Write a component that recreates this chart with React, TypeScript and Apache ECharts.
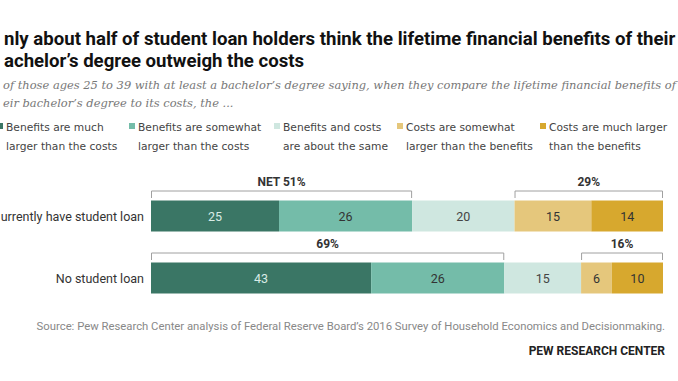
import React, { useEffect, useRef } from "react";
import * as echarts from "echarts";

// Visible text is kept as it appears in the (left-cropped) reference picture
const categories = ["urrently have student loan", "No student loan"];
const seriesNames = [
  "Benefits are much\nlarger than the costs",
  "Benefits are somewhat\nlarger than the costs",
  "Benefits and costs\nare about the same",
  "Costs are somewhat\nlarger than the benefits",
  "Costs are much larger\nthan the benefits",
];
const muchBenefits = [25, 43];
const somewhatBenefits = [26, 26];
const aboutSame = [20, 15];
const somewhatCosts = [15, 6];
const muchCosts = [14, 10];
const seriesValues = [muchBenefits, somewhatBenefits, aboutSame, somewhatCosts, muchCosts];
const colors = ["#3a7665", "#74bca9", "#cfe7e0", "#e5c77c", "#d7a82e"];
const labelColors = ["#d8ece6", "#333333", "#444444", "#333333", "#333333"];
// brackets: [start, end, row, label]
const brackets: [number, number, number, string][] = [
  [0, 51, 0, "NET 51%"],
  [71, 100, 0, "29%"],
  [0, 69, 1, "69%"],
  [84, 100, 1, "16%"],
];
const legendTextX = [6, 138, 283, 406, 549];

const titleLines = [
  "nly about half of student loan holders think the lifetime financial benefits of their",
  "achelor\u2019s degree outweigh the costs",
];
const subtitleLines = [
  "of those ages 25 to 39 with at least a bachelor\u2019s degree saying, when they compare the lifetime financial benefits of",
  "eir bachelor\u2019s degree to its costs, the ...",
];
const sourceText =
  "Source: Pew Research Center analysis of Federal Reserve Board\u2019s 2016 Survey of Household Economics and Decisionmaking.";

const sans = "Roboto, 'Liberation Sans', sans-serif";
const wide = "'DejaVu Sans', Verdana, sans-serif";

export default function App() {
  const ref = useRef<HTMLDivElement>(null);
  useEffect(() => {
    if (!ref.current) return;
    const chart = echarts.init(ref.current, undefined, { renderer: "svg" });
    const barSeries = seriesValues.map((vals, i) => ({
      type: "bar",
      name: seriesNames[i],
      stack: "total",
      data: vals,
      barWidth: 31,
      itemStyle: { color: colors[i] },
      label: {
        show: true,
        position: "inside",
        color: labelColors[i],
        fontSize: 12.5,
        fontFamily: sans,
      },
    }));
    const legendGraphics: any[] = [];
    seriesNames.forEach((n, i) => {
      legendGraphics.push({
        type: "rect",
        shape: { x: legendTextX[i] - 9, y: 123, width: 6, height: 6 },
        style: { fill: colors[i] },
      });
      legendGraphics.push({
        type: "text",
        x: legendTextX[i],
        y: 118,
        style: {
          text: n,
          fill: "#444",
          fontSize: 10.7,
          lineHeight: 19,
          fontFamily: wide,
          verticalAlign: "top",
        },
      });
    });
    chart.setOption({
      animation: false,
      grid: {
        left: 151,
        right: 15,
        top: 185,
        height: 124,
        containLabel: false,
        outerBoundsMode: "none",
      },
      xAxis: { type: "value", min: 0, max: 100, show: false },
      yAxis: {
        type: "category",
        data: categories,
        inverse: true,
        axisLine: { show: false },
        axisTick: { show: false },
        axisLabel: { color: "#333", fontSize: 12.5, margin: 7, fontFamily: sans },
      },
      graphic: [
        {
          type: "text",
          x: 4,
          y: 28,
          style: {
            text: titleLines.join("\n"),
            fill: "#111",
            fontSize: 18.6,
            fontWeight: "bold",
            lineHeight: 22,
            fontFamily: sans,
            verticalAlign: "top",
          },
        },
        {
          type: "text",
          x: 3,
          y: 76,
          style: {
            text: subtitleLines.join("\n"),
            fill: "#777",
            fontSize: 11.45,
            fontStyle: "italic",
            lineHeight: 18,
            fontFamily: "'DejaVu Serif', 'Liberation Serif', serif",
            verticalAlign: "top",
          },
        },
        ...legendGraphics,
        {
          type: "text",
          right: 13,
          top: 321,
          style: { text: sourceText, fill: "#888", fontSize: 11.3, fontFamily: sans },
        },
        {
          type: "text",
          right: 13,
          top: 345,
          style: {
            text: "PEW RESEARCH CENTER",
            fill: "#222",
            fontSize: 12,
            fontWeight: "bold",
            fontFamily: sans,
          },
        },
      ],
      series: [
        ...barSeries,
        {
          type: "custom",
          name: "brackets",
          data: brackets,
          encode: { x: [0, 1], y: 2 },
          renderItem: (params: any, api: any) => {
            const s = api.value(0);
            const e = api.value(1);
            const row = api.value(2);
            const idx = params.dataIndex;
            const p0 = api.coord([s, row]);
            const p1 = api.coord([e, row]);
            const y = p0[1];
            return {
              type: "group",
              children: [
                {
                  type: "polyline",
                  shape: {
                    points: [
                      [p0[0] + 0.5, y - 18],
                      [p0[0] + 0.5, y - 25],
                      [p1[0] - 0.5, y - 25],
                      [p1[0] - 0.5, y - 18],
                    ],
                  },
                  style: { stroke: "#a0a0a0", lineWidth: 1, fill: null },
                },
                {
                  type: "text",
                  x: (p0[0] + p1[0]) / 2,
                  y: y - 34,
                  style: {
                    text: brackets[idx][3],
                    fill: "#333",
                    fontSize: 12,
                    fontWeight: "bold",
                    fontFamily: sans,
                    align: "center",
                    verticalAlign: "middle",
                  },
                },
              ],
            };
          },
        },
      ],
    });
    return () => chart.dispose();
  }, []);
  return (
    <div
      ref={ref}
      style={{ position: "absolute", left: 0, top: 0, width: 678, height: 381, background: "#fff" }}
    />
  );
}
